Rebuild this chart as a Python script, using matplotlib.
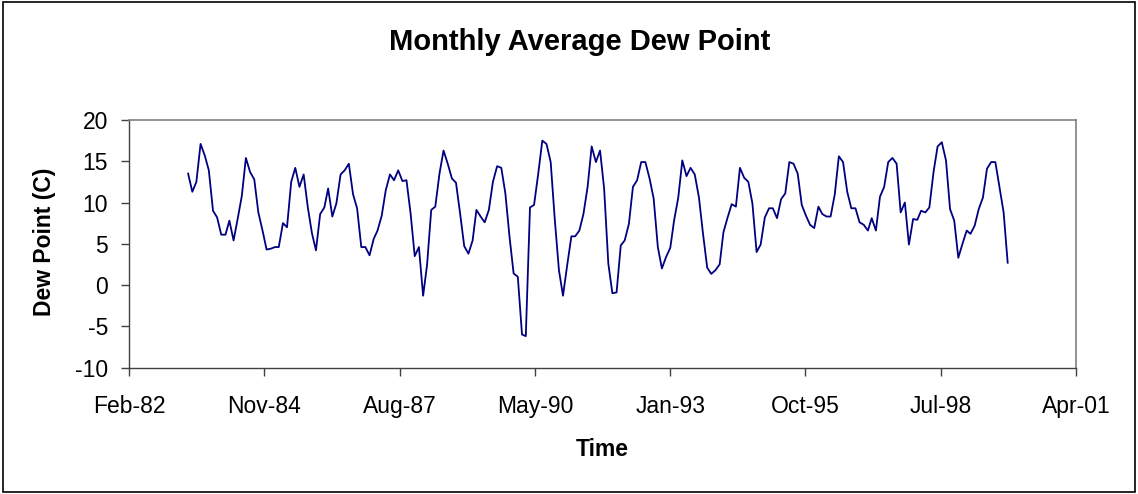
import datetime as dt

import matplotlib
matplotlib.use('Agg')
import matplotlib.pyplot as plt
import matplotlib.dates as mdates
from matplotlib.patches import Rectangle
import pandas as pd

plt.rcParams['font.family'] = ['Liberation Sans', 'DejaVu Sans']
plt.rcParams['axes.unicode_minus'] = False

# monthly average dew point, May 1983 .. Dec 1999
start_month = '1983-05-01'
dew_point = [
	13.5, 11.3, 12.5, 17.1, 15.7, 13.9, 9.0, 8.2, 6.1, 6.1,
	7.8, 5.4, 8.0, 10.8, 15.4, 13.7, 12.8, 8.8, 6.6, 4.3,
	4.4, 4.6, 4.6, 7.5, 7.0, 12.5, 14.2, 11.9, 13.4, 9.5,
	6.3, 4.2, 8.6, 9.4, 11.7, 8.3, 9.9, 13.4, 13.9, 14.7,
	11.0, 9.3, 4.6, 4.6, 3.6, 5.6, 6.6, 8.4, 11.5, 13.4,
	12.7, 13.9, 12.6, 12.7, 8.6, 3.5, 4.6, -1.3, 2.4, 9.1,
	9.5, 13.5, 16.3, 14.7, 12.9, 12.4, 8.6, 4.7, 3.8, 5.4,
	9.1, 8.3, 7.6, 9.1, 12.5, 14.4, 14.2, 11.1, 5.8, 1.4,
	1.0, -6.0, -6.2, 9.4, 9.7, 13.5, 17.5, 17.1, 14.9, 8.0,
	1.8, -1.3, 2.4, 5.9, 5.9, 6.6, 8.6, 11.9, 16.8, 14.9,
	16.3, 11.7, 2.6, -1.0, -0.9, 4.8, 5.4, 7.4, 11.9, 12.7,
	14.9, 14.9, 12.9, 10.5, 4.6, 2.0, 3.4, 4.5, 7.8, 10.6,
	15.1, 13.2, 14.2, 13.4, 10.6, 6.2, 2.1, 1.35, 1.8, 2.5,
	6.4, 8.2, 9.8, 9.5, 14.2, 13.0, 12.5, 9.9, 4.0, 4.9,
	8.2, 9.3, 9.3, 8.1, 10.4, 11.1, 14.9, 14.7, 13.5, 9.7,
	8.4, 7.3, 6.9, 9.5, 8.6, 8.3, 8.3, 11.0, 15.6, 14.9,
	11.3, 9.3, 9.3, 7.6, 7.3, 6.6, 8.1, 6.6, 10.7, 11.9,
	14.9, 15.4, 14.7, 8.8, 10.0, 4.9, 8.0, 7.9, 9.0, 8.8,
	9.4, 13.7, 16.8, 17.3, 15.1, 9.2, 7.8, 3.3, 5.0, 6.6,
	6.2, 7.2, 9.2, 10.6, 14.1, 14.9, 14.9, 11.9, 8.8, 2.7,
]
dates = pd.date_range(start_month, periods=len(dew_point), freq='MS')

# excel-style date axis: 1000 day steps from Feb-82 to Apr-01
x_min = dt.date(1982, 2, 18)
x_max = dt.date(2001, 4, 19)
x_ticks = [x_min + dt.timedelta(days=1000 * i) for i in range(8)]
y_ticks = [-10, -5, 0, 5, 10, 15, 20]

W, H = 1138, 494
fig = plt.figure(figsize=(W / 100, H / 100), dpi=100)
ax = fig.add_axes([129 / W, 1 - 367.5 / H, (1076 - 129) / W, (367.5 - 120) / H])

ax.plot(dates, dew_point, color='#000080', lw=1.3)

ax.set_xlim(x_min, x_max)
ax.set_ylim(-10, 20)
ax.set_xticks(x_ticks)
ax.xaxis.set_major_formatter(mdates.DateFormatter('%b-%y'))
ax.set_yticks(y_ticks)
ax.tick_params(direction='out', length=5.5, width=1, colors='#404040', labelcolor='black',
	labelsize=16.5)
ax.tick_params(axis='x', pad=14.5)
ax.tick_params(axis='y', pad=9.5)

for side in ('left', 'bottom'):
	ax.spines[side].set_color('#404040')
	ax.spines[side].set_linewidth(1)
for side in ('top', 'right'):
	ax.spines[side].set_color('#808080')
	ax.spines[side].set_linewidth(1.2)

fig.text(580 / W, 1 - 50 / H, 'Monthly Average Dew Point', ha='center', va='baseline',
	fontsize=21, fontweight='bold')
fig.text(602 / W, 1 - 456 / H, 'Time', ha='center', va='baseline',
	fontsize=16.5, fontweight='bold')
fig.text(44.5 / W, 1 - 242 / H, 'Dew Point (C)', ha='center', va='center', rotation=90,
	fontsize=16.5, fontweight='bold')

# chart area border
fig.patches.append(Rectangle((3 / W, 2 / H), 1 - 6 / W, 1 - 4 / H,
	transform=fig.transFigure, fill=False, edgecolor='black', lw=1.2))

fig.savefig('out.png', dpi=100)
